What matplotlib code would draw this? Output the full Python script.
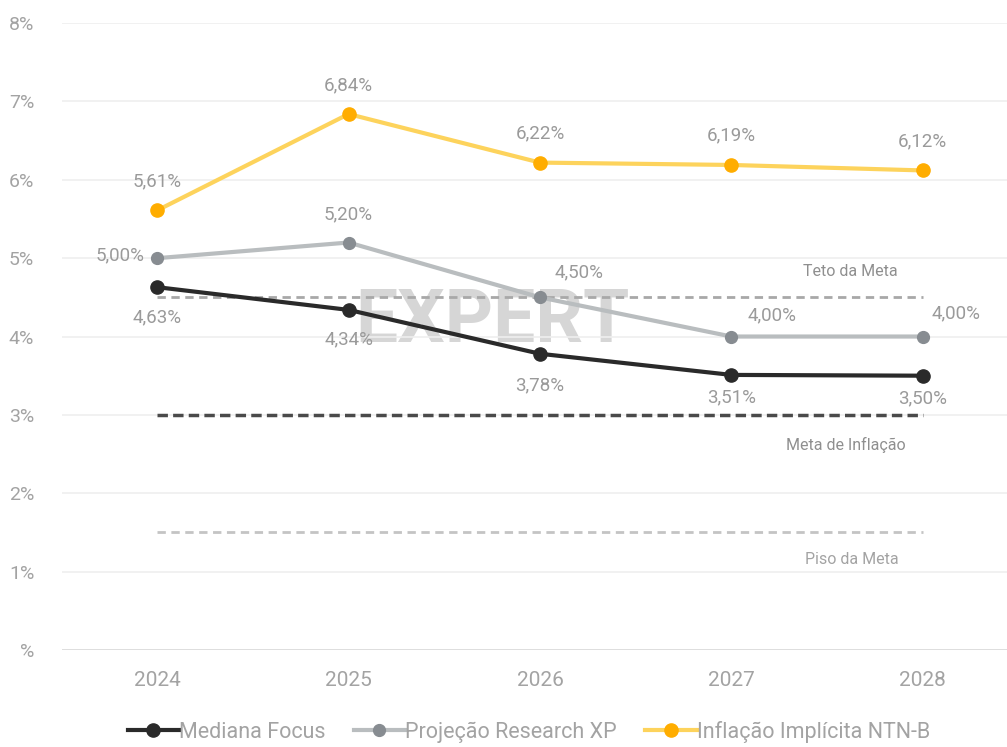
import numpy as np
import matplotlib
matplotlib.use('Agg')
import matplotlib.pyplot as plt

plt.rcParams['font.family'] = ['Roboto', 'DejaVu Sans']

anos = [2024, 2025, 2026, 2027, 2028]
focus = [4.63, 4.34, 3.78, 3.51, 3.50]
xp = [5.00, 5.20, 4.50, 4.00, 4.00]
ntnb = [5.61, 6.84, 6.22, 6.19, 6.12]
teto, meta, piso = 4.5, 3.0, 1.5
yticks = [0, 1, 2, 3, 4, 5, 6, 7, 8]
ylabels = ['%', '1%', '2%', '3%', '4%', '5%', '6%', '7%', '8%']

def fmt(v):
    return f'{v:.2f}%'.replace('.', ',')

fig = plt.figure(figsize=(10.07, 7.47), dpi=100)
ax = fig.add_axes([0.0616, 0.130, 0.9384, 0.839])
ax.set_xlim(2023.503, 2028.44)
ax.set_ylim(0, 8)

tc = '#a3a3a3'
ax.set_yticks(yticks)
ax.set_yticklabels(ylabels, color=tc, fontsize=14)
ax.set_xticks(anos)
ax.set_xticklabels([str(a) for a in anos], color=tc, fontsize=15)
ax.tick_params(length=0, pad=15)
ax.tick_params(axis='y', pad=20)
for s in ax.spines.values():
    s.set_visible(False)
ax.grid(axis='y', color='#efefef', lw=1.2)
ax.axhline(0, color='#dcdcdc', lw=1.3)

# metas
ax.plot([anos[0], anos[-1]], [teto, teto], ls=(0, (3, 2)), color='#a8a8a8', lw=2, zorder=2)
ax.plot([anos[0], anos[-1]], [meta, meta], ls=(0, (3, 1.5)), color='#4a4a4a', lw=2.5, zorder=2)
ax.plot([anos[0], anos[-1]], [piso, piso], ls=(0, (3, 2)), color='#c4c4c4', lw=2, zorder=2)
ax.text(2027.62, 4.83, 'Teto da Meta', color='#8f8f8f', fontsize=11.5, ha='center', va='center')
ax.text(2027.6, 2.62, 'Meta de Inflação', color='#8f8f8f', fontsize=11.5, ha='center', va='center')
ax.text(2027.63, 1.15, 'Piso da Meta', color='#a3a3a3', fontsize=11.5, ha='center', va='center')

# marca d'agua
ax.text(2025.75, 4.18, 'EXPERT', color='#cfcfcf', fontsize=54, fontweight='bold',
        ha='center', va='center', zorder=1.5, alpha=0.85)

ax.plot(anos, focus, color='#2a2a2a', lw=3, marker='o', ms=9.5, zorder=5, label='Mediana Focus')
ax.plot(anos, xp, color='#b9bdbf', lw=3, marker='o', ms=8.5, mfc='#878c91', mec='#878c91',
        zorder=4, label='Projeção Research XP')
ax.plot(anos, ntnb, color='#fdd35c', lw=3, marker='o', ms=9.5, mfc='#ffad00', mec='#ffad00',
        zorder=4, label='Inflação Implícita NTN-B')

lc = '#9a9a9a'
for a, v in zip(anos, ntnb):
    ax.annotate(fmt(v), (a, v), xytext=(0, 21), textcoords='offset points', ha='center',
                va='center', color=lc, fontsize=13.5)
xp_off = [(-27, 2), (0, 20), (28, 18), (29, 15), (24, 17)]
for a, v, o in zip(anos, xp, xp_off):
    ax.annotate(fmt(v), (a, v), xytext=o, textcoords='offset points', ha='center',
                va='center', color=lc, fontsize=13.5)
focus_off = [-22, -21, -23, -16, -16]
for a, v, o in zip(anos, focus, focus_off):
    ax.annotate(fmt(v), (a, v), xytext=(0, o), textcoords='offset points', ha='center',
                va='center', color=lc, fontsize=13.5)

leg = fig.legend(loc='lower center', bbox_to_anchor=(0.525, -0.02), ncol=3, frameon=False,
                 fontsize=15.5, handlelength=2.4, columnspacing=1.3, handletextpad=0.0)
for t in leg.get_texts():
    t.set_color(tc)

fig.savefig('out.png', dpi=100)
